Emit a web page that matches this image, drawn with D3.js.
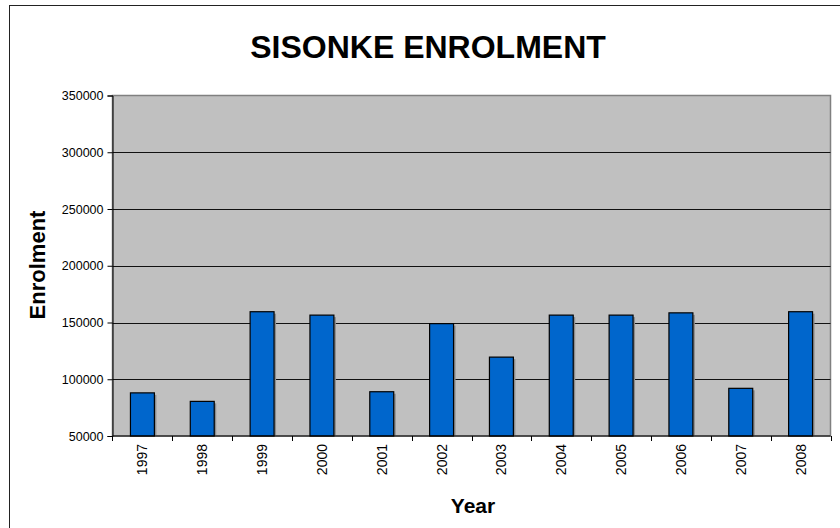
<!DOCTYPE html>
<html>
<head>
<meta charset="utf-8">
<script src="https://cdn.jsdelivr.net/npm/d3@7"></script>
<style>
  body { margin: 0; background: #fff; }
  svg { display: block; font-family: "Liberation Sans", Arial, sans-serif; }
</style>
</head>
<body>
<svg id="chart" width="840" height="528"></svg>
<script>
var years = ['1997', '1998', '1999', '2000', '2001', '2002', '2003', '2004', '2005', '2006', '2007', '2008'];
var enrolment = [88000, 80500, 159500, 156500, 89000, 149000, 119500, 156500, 156500, 158500, 92000, 159500];
var yTicks = [50000, 100000, 150000, 200000, 250000, 300000, 350000];

var plotLeft = 112.5, plotRight = 830.5, plotTop = 95.5, plotBottom = 436;

var svg = d3.select('#chart');

// chart frame, right and bottom edges run off the page
svg.append('rect')
    .attr('x', 9.5).attr('y', 5.5)
    .attr('width', 900).attr('height', 600)
    .attr('fill', '#fff')
    .attr('stroke', '#222');

var x = d3.scaleBand()
    .domain(years)
    .range([plotLeft, plotRight])
    .paddingInner(0.6)
    .paddingOuter(0.3);

var y = d3.scaleLinear()
    .domain([50000, 350000])
    .range([plotBottom, plotTop]);

// plot area
svg.append('rect')
    .attr('x', plotLeft).attr('y', plotTop)
    .attr('width', plotRight - plotLeft).attr('height', plotBottom - plotTop)
    .attr('fill', '#c0c0c0')
    .attr('stroke', '#808080')
    .attr('stroke-width', 1.5);

// gridlines
svg.append('g')
    .selectAll('line')
    .data(yTicks.slice(1, -1))
    .join('line')
    .attr('x1', plotLeft).attr('x2', plotRight)
    .attr('y1', function (d) { return Math.round(y(d)) + 0.5; })
    .attr('y2', function (d) { return Math.round(y(d)) + 0.5; })
    .attr('stroke', '#111')
    .attr('stroke-width', 1.2);

// bar shadows
svg.append('g')
    .selectAll('rect')
    .data(enrolment)
    .join('rect')
    .attr('x', function (d, i) { return x(years[i]) + 2; })
    .attr('y', function (d) { return y(d) + 2; })
    .attr('width', x.bandwidth())
    .attr('height', function (d) { return plotBottom - y(d) - 2; })
    .attr('fill', '#8c8c8c');

// bars
svg.append('g')
    .selectAll('rect')
    .data(enrolment)
    .join('rect')
    .attr('x', function (d, i) { return x(years[i]); })
    .attr('y', function (d) { return y(d); })
    .attr('width', x.bandwidth())
    .attr('height', function (d) { return plotBottom - y(d); })
    .attr('fill', '#0066cc')
    .attr('stroke', '#000')
    .attr('stroke-width', 1.2);

// y axis
var yAxis = svg.append('g')
    .attr('transform', 'translate(' + plotLeft + ',0)')
    .call(d3.axisLeft(y).tickValues(yTicks).tickSize(5).tickPadding(4).tickFormat(d3.format('d')));
yAxis.select('.domain').attr('stroke', '#000');
yAxis.selectAll('text')
    .attr('font-size', '12.5px')
    .attr('fill', '#000')
    .attr('font-family', '"Liberation Sans", Arial, sans-serif');

// x axis baseline and category dividers
var step = x.step();
var bounds = years.map(function (d) { return x(d) - step * 0.3; }).concat([plotRight]);
svg.append('line')
    .attr('x1', plotLeft).attr('x2', plotRight)
    .attr('y1', plotBottom).attr('y2', plotBottom)
    .attr('stroke', '#000');
svg.append('g')
    .selectAll('line')
    .data(bounds)
    .join('line')
    .attr('x1', function (d) { return Math.round(d) + 0.5; })
    .attr('x2', function (d) { return Math.round(d) + 0.5; })
    .attr('y1', plotBottom).attr('y2', plotBottom + 5)
    .attr('stroke', '#000');

svg.append('g')
    .selectAll('text')
    .data(years)
    .join('text')
    .attr('transform', function (d) {
        return 'translate(' + (x(d) + x.bandwidth() / 2 + 5) + ',' + (plotBottom + 8) + ') rotate(-90)';
    })
    .attr('text-anchor', 'end')
    .attr('font-size', '14px')
    .text(function (d) { return d; });

// titles
svg.append('text')
    .attr('x', 428).attr('y', 58)
    .attr('text-anchor', 'middle')
    .attr('font-size', '32px')
    .attr('font-weight', 'bold')
    .text('SISONKE ENROLMENT');

svg.append('text')
    .attr('x', 473).attr('y', 513)
    .attr('text-anchor', 'middle')
    .attr('font-size', '21px')
    .attr('font-weight', 'bold')
    .text('Year');

svg.append('text')
    .attr('transform', 'translate(45,265) rotate(-90)')
    .attr('text-anchor', 'middle')
    .attr('font-size', '22px')
    .attr('font-weight', 'bold')
    .text('Enrolment');
</script>
</body>
</html>
